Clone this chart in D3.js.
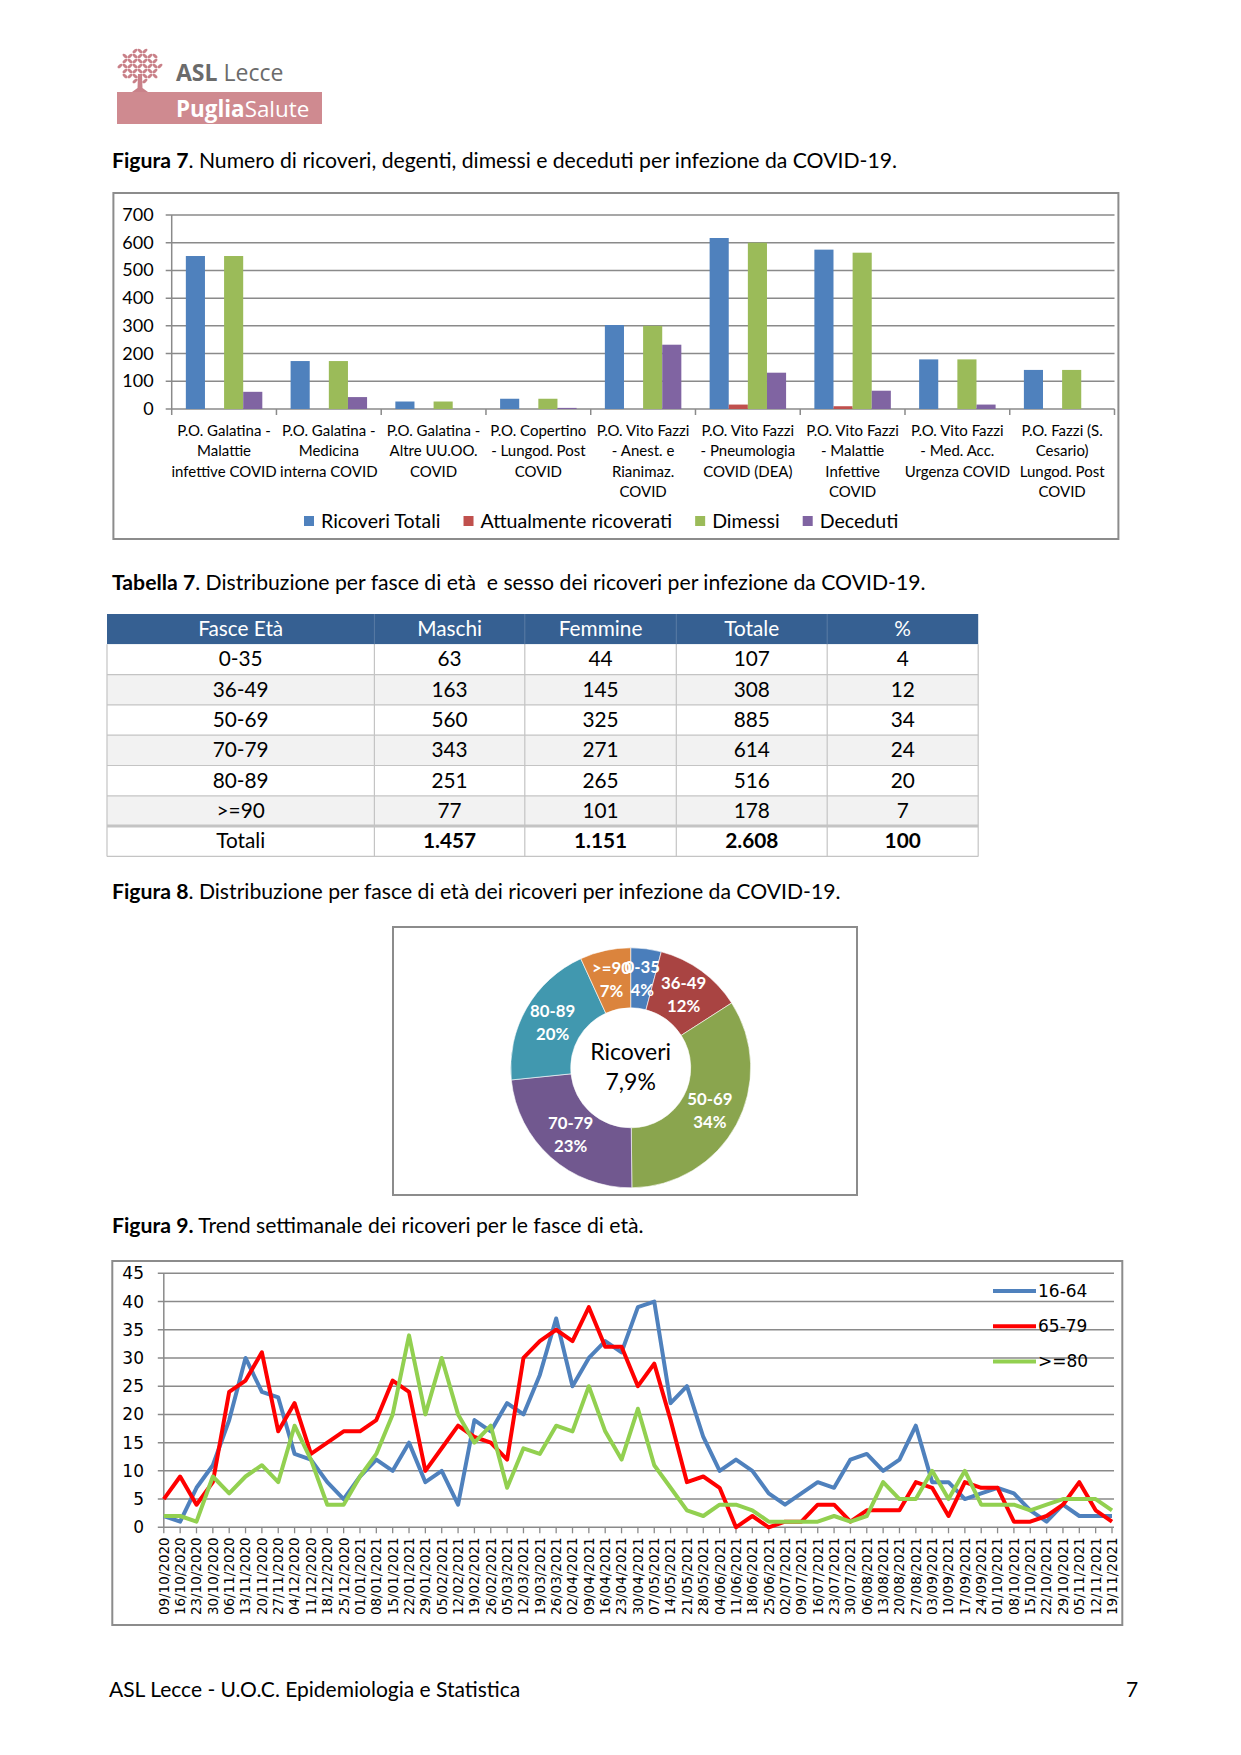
<!DOCTYPE html>
<html>
<head>
<meta charset="utf-8">
<script src="https://cdn.jsdelivr.net/npm/d3@7"></script>
<style>
  body { margin: 0; background: #fff; }
  svg { display: block; }
  text { white-space: pre; }
</style>
</head>
<body>
<script>
// ---- Figura 7: ricoveri per presidio ----
const reparti = [
  ["P.O. Galatina -", "Malattie", "infettive COVID"],
  ["P.O. Galatina -", "Medicina", "interna COVID"],
  ["P.O. Galatina -", "Altre UU.OO.", "COVID"],
  ["P.O. Copertino", "- Lungod. Post", "COVID"],
  ["P.O. Vito Fazzi", "- Anest. e", "Rianimaz.", "COVID"],
  ["P.O. Vito Fazzi", "- Pneumologia", "COVID (DEA)"],
  ["P.O. Vito Fazzi", "- Malattie", "Infettive", "COVID"],
  ["P.O. Vito Fazzi", "- Med. Acc.", "Urgenza COVID"],
  ["P.O. Fazzi (S.", "Cesario)", "Lungod. Post", "COVID"]
];
const ricoveriTotali = [552, 173, 27, 37, 303, 617, 575, 179, 141];
const attualmenteRicoverati = [0, 0, 0, 0, 0, 16, 10, 0, 0];
const dimessi = [552, 173, 27, 37, 300, 600, 564, 179, 141];
const deceduti = [62, 43, 0, 4, 232, 131, 66, 16, 0];
const serieF7 = ["Ricoveri Totali", "Attualmente ricoverati", "Dimessi", "Deceduti"];
const valoriF7 = [ricoveriTotali, attualmenteRicoverati, dimessi, deceduti];
const coloriF7 = ["#4f81bd", "#c0504d", "#9bbb59", "#8064a2"];
const yTicksF7 = [0, 100, 200, 300, 400, 500, 600, 700];

// ---- Tabella 7 ----
const intestazione = ["Fasce Età", "Maschi", "Femmine", "Totale", "%"];
const fasce = ["0-35", "36-49", "50-69", "70-79", "80-89", ">=90"];
const maschi = [63, 163, 560, 343, 251, 77];
const femmine = [44, 145, 325, 271, 265, 101];
const totale = [107, 308, 885, 614, 516, 178];
const percentuale = [4, 12, 34, 24, 20, 7];
const percTotale = 100;

// ---- Figura 8: ciambella ----
const etichettePct = ["4%", "12%", "34%", "23%", "20%", "7%"];
const coloriPie = ["#4a7ebb", "#a94442", "#8aa54e", "#71588f", "#4198af", "#db843d"];

// ---- Figura 9: trend settimanale ----
const settimane = [
  "09/10/2020", "16/10/2020", "23/10/2020", "30/10/2020", "06/11/2020", "13/11/2020",
  "20/11/2020", "27/11/2020", "04/12/2020", "11/12/2020", "18/12/2020", "25/12/2020",
  "01/01/2021", "08/01/2021", "15/01/2021", "22/01/2021", "29/01/2021", "05/02/2021",
  "12/02/2021", "19/02/2021", "26/02/2021", "05/03/2021", "12/03/2021", "19/03/2021",
  "26/03/2021", "02/04/2021", "09/04/2021", "16/04/2021", "23/04/2021", "30/04/2021",
  "07/05/2021", "14/05/2021", "21/05/2021", "28/05/2021", "04/06/2021", "11/06/2021",
  "18/06/2021", "25/06/2021", "02/07/2021", "09/07/2021", "16/07/2021", "23/07/2021",
  "30/07/2021", "06/08/2021", "13/08/2021", "20/08/2021", "27/08/2021", "03/09/2021",
  "10/09/2021", "17/09/2021", "24/09/2021", "01/10/2021", "08/10/2021", "15/10/2021",
  "22/10/2021", "29/10/2021", "05/11/2021", "12/11/2021", "19/11/2021"
];
const eta16_64 = [2, 1, 7, 11, 19, 30, 24, 23, 13, 12, 8, 5, 9, 12, 10, 15, 8, 10, 4, 19,
  17, 22, 20, 27, 37, 25, 30, 33, 31, 39, 40, 22, 25, 16, 10, 12, 10, 6, 4, 6,
  8, 7, 12, 13, 10, 12, 18, 8, 8, 5, 6, 7, 6, 3, 1, 4, 2, 2, 2];
const eta65_79 = [5, 9, 4, 8, 24, 26, 31, 17, 22, 13, 15, 17, 17, 19, 26, 24, 10, 14, 18, 16,
  15, 12, 30, 33, 35, 33, 39, 32, 32, 25, 29, 19, 8, 9, 7, 0, 2, 0, 1, 1,
  4, 4, 1, 3, 3, 3, 8, 7, 2, 8, 7, 7, 1, 1, 2, 4, 8, 3, 1];
const eta80 = [2, 2, 1, 9, 6, 9, 11, 8, 18, 12, 4, 4, 9, 13, 20, 34, 20, 30, 20, 15,
  18, 7, 14, 13, 18, 17, 25, 17, 12, 21, 11, 7, 3, 2, 4, 4, 3, 1, 1, 1,
  1, 2, 1, 2, 8, 5, 5, 10, 5, 10, 4, 4, 4, 3, 4, 5, 5, 5, 3];
const serieF9 = ["16-64", "65-79", ">=80"];
const valoriF9 = [eta16_64, eta65_79, eta80];
const coloriF9 = ["#4f81bd", "#ff0000", "#92d050"];
const yTicksF9 = [0, 5, 10, 15, 20, 25, 30, 35, 40, 45];

const W = 1241, H = 1755;
const CAL = "Lato, 'Open Sans', sans-serif";
const VER = "'DejaVu Sans', Verdana, sans-serif";
const GRID = "#8a8a8a";

const svg = d3.select("body").append("svg")
  .attr("width", W).attr("height", H);

// ---------- logo ----------
const logo = svg.append("g");
logo.append("rect").attr("x", 117).attr("y", 92).attr("width", 205).attr("height", 32)
  .attr("fill", "#cf8a90");
logo.append("text").attr("x", 176).attr("y", 116.5)
  .attr("font-family", "'Open Sans', sans-serif").attr("font-size", 22.4).attr("fill", "#fff")
  .call(t => {
    t.append("tspan").attr("font-weight", "bold").text("Puglia");
    t.append("tspan").text("Salute");
  });
logo.append("text").attr("x", 176).attr("y", 81)
  .attr("font-family", "'Open Sans', sans-serif").attr("font-size", 23).attr("fill", "#6b6b6b")
  .call(t => {
    t.append("tspan").attr("font-weight", "bold").text("ASL");
    t.append("tspan").text(" Lecce");
  });
// small stylised tree
const tree = logo.append("g").attr("fill", "#c98189");
tree.append("path").attr("d", "M138,74 L142,74 L142.5,88 L148,92 L132,92 L137.5,88 Z");
d3.range(-3, 4).forEach(r => {
  d3.range(-4, 5).forEach(c => {
    if ((r * r) / 10 + (c * c) / 17 > 1) return;
    const lx = 140 + c * 5, ly = 66 + r * 5;
    tree.append("ellipse")
      .attr("cx", lx).attr("cy", ly).attr("rx", 3).attr("ry", 1.5)
      .attr("transform", `rotate(${(r + c) % 2 ? 40 : -40},${lx},${ly})`);
  });
});

// ---------- captions ----------
function caption(y, bold, rest) {
  const t = svg.append("text").attr("x", 112).attr("y", y)
    .attr("font-family", CAL).attr("font-size", 21.2).attr("fill", "#000");
  t.append("tspan").attr("font-weight", "bold").text(bold);
  t.append("tspan").text(rest);
}
caption(168, "Figura 7", ". Numero di ricoveri, degenti, dimessi e deceduti per infezione da COVID-19.");
caption(590, "Tabella 7", ". Distribuzione per fasce di età  e sesso dei ricoveri per infezione da COVID-19.");
caption(899, "Figura 8", ". Distribuzione per fasce di età dei ricoveri per infezione da COVID-19.");
caption(1233, "Figura 9.", " Trend settimanale dei ricoveri per le fasce di età.");

// ---------- Figura 7 ----------
{
  svg.append("rect").attr("x", 113.4).attr("y", 193).attr("width", 1005).attr("height", 346)
    .attr("fill", "#fff").attr("stroke", "#8c8c8c").attr("stroke-width", 2);

  const left = 171.7, right = 1114.5, top = 215, bottom = 409;
  const g = svg.append("g");
  const x0 = d3.scaleBand().domain(d3.range(reparti.length)).range([left, right])
    .paddingInner(0.27).paddingOuter(0.135);
  const x1 = d3.scaleBand().domain(d3.range(serieF7.length)).range([0, x0.bandwidth()]);
  const y = d3.scaleLinear().domain([0, 700]).range([bottom, top]);
  const step = (right - left) / reparti.length;

  g.append("g").selectAll("line").data(yTicksF7).join("line")
    .attr("x1", left - 6).attr("x2", right).attr("y1", d => y(d)).attr("y2", d => y(d))
    .attr("stroke", GRID).attr("stroke-width", 1.5);
  g.append("g").selectAll("text").data(yTicksF7).join("text")
    .attr("x", 153.6).attr("y", d => y(d) + 6).attr("text-anchor", "end")
    .attr("font-family", CAL).attr("font-size", 18).text(d => d);

  const grp = g.append("g").selectAll("g").data(reparti).join("g")
    .attr("transform", (d, i) => `translate(${x0(i)},0)`);
  grp.selectAll("rect").data((d, i) => valoriF7.map((s, k) => ({ k, v: s[i] }))).join("rect")
    .attr("x", d => x1(d.k)).attr("width", x1.bandwidth())
    .attr("y", d => y(d.v)).attr("height", d => y(0) - y(d.v))
    .attr("fill", d => coloriF7[d.k]);

  g.append("line").attr("x1", left).attr("x2", left).attr("y1", top).attr("y2", bottom)
    .attr("stroke", GRID).attr("stroke-width", 1.5);
  g.append("g").selectAll("line").data(d3.range(reparti.length + 1)).join("line")
    .attr("x1", d => left + d * step).attr("x2", d => left + d * step)
    .attr("y1", bottom).attr("y2", bottom + 6)
    .attr("stroke", GRID).attr("stroke-width", 1.5);

  g.append("g").selectAll("text").data(reparti).join("text")
    .attr("font-family", CAL).attr("font-size", 15).attr("text-anchor", "middle")
    .each(function (lines, i) {
      d3.select(this).selectAll("tspan").data(lines).join("tspan")
        .attr("x", left + (i + 0.5) * step)
        .attr("y", (l, j) => 436 + j * 20.4)
        .text(l => l);
    });

  // legend
  let lx = 304;
  const leg = g.append("g");
  serieF7.forEach((s, k) => {
    leg.append("rect").attr("x", lx).attr("y", 516).attr("width", 10).attr("height", 10)
      .attr("fill", coloriF7[k]);
    const t = leg.append("text").attr("x", lx + 17).attr("y", 527.5)
      .attr("font-family", CAL).attr("font-size", 19.6).text(s);
    lx += 17 + t.node().getComputedTextLength() + 23;
  });
}

// ---------- Tabella 7 ----------
{
  const colX = [107, 374.4, 524.8, 676.3, 827.2, 978.2];
  const top = 614, rowH = 30.3;
  const fmt = d3.formatLocale({ decimal: ",", thousands: ".", grouping: [3], currency: ["", ""] }).format(",d");
  const righe = fasce.map((f, i) => [f, maschi[i], femmine[i], totale[i], percentuale[i]]);
  const totali = ["Totali", fmt(d3.sum(maschi)), fmt(d3.sum(femmine)), fmt(d3.sum(totale)), percTotale];
  const tg = svg.append("g").attr("font-family", CAL).attr("font-size", 20.8).attr("text-anchor", "middle");

  tg.append("rect").attr("x", colX[0]).attr("y", top).attr("width", colX[5] - colX[0]).attr("height", rowH)
    .attr("fill", "#366092");
  tg.selectAll("rect.row").data(righe.concat([totali])).join("rect").attr("class", "row")
    .attr("x", colX[0]).attr("y", (d, i) => top + rowH * (i + 1))
    .attr("width", colX[5] - colX[0]).attr("height", rowH)
    .attr("fill", (d, i) => (i % 2 === 1 && i < righe.length) ? "#f2f2f2" : "#fff");

  // grid lines
  tg.selectAll("line.h").data(d3.range(2, righe.length + 3)).join("line").attr("class", "h")
    .attr("x1", colX[0]).attr("x2", colX[5])
    .attr("y1", d => top + rowH * d).attr("y2", d => top + rowH * d)
    .attr("stroke", "#c4c4c4").attr("stroke-width", d => d === righe.length + 1 ? 3 : 1.2);
  tg.selectAll("line.v").data(colX).join("line").attr("class", "v")
    .attr("x1", d => d).attr("x2", d => d)
    .attr("y1", top + rowH).attr("y2", top + rowH * (righe.length + 2))
    .attr("stroke", "#c4c4c4").attr("stroke-width", 1.2);
  tg.selectAll("line.vh").data(colX.slice(1, 5)).join("line").attr("class", "vh")
    .attr("x1", d => d).attr("x2", d => d).attr("y1", top).attr("y2", top + rowH)
    .attr("stroke", "#5a7ca5").attr("stroke-width", 1);

  const cx = c => (colX[c] + colX[c + 1]) / 2;
  tg.selectAll("text.hd").data(intestazione).join("text").attr("class", "hd")
    .attr("x", (d, c) => cx(c)).attr("y", top + rowH / 2 + 7).attr("fill", "#fff").text(d => d);
  righe.concat([totali]).forEach((r, i) => {
    tg.append("g").selectAll("text").data(r).join("text")
      .attr("x", (d, c) => cx(c)).attr("y", top + rowH * (i + 1) + rowH / 2 + 7)
      .attr("font-weight", (d, c) => (i === righe.length && c > 0) ? "bold" : "normal")
      .text(d => d);
  });
}

// ---------- Figura 8 ----------
{
  svg.append("rect").attr("x", 393).attr("y", 927).attr("width", 464).attr("height", 268)
    .attr("fill", "#fff").attr("stroke", "#8c8c8c").attr("stroke-width", 2);
  const cx = 630.7, cy = 1067.8, rOut = 120, rIn = 60;
  const g = svg.append("g").attr("transform", `translate(${cx},${cy})`);
  const arcs = d3.pie().sort(null)(totale);
  const arc = d3.arc().innerRadius(rIn).outerRadius(rOut);
  g.selectAll("path").data(arcs).join("path")
    .attr("d", arc).attr("fill", (d, i) => coloriPie[i])
    .attr("stroke", "#fff").attr("stroke-width", 0.6);
  const mid = d3.arc().innerRadius((rIn + rOut) / 2).outerRadius((rIn + rOut) / 2);
  const lab = g.selectAll("g.lab").data(arcs).join("g").attr("class", "lab")
    .attr("transform", d => `translate(${mid.centroid(d)})`)
    .attr("font-family", CAL).attr("font-size", 16.8).attr("font-weight", "bold")
    .attr("fill", "#fff").attr("text-anchor", "middle");
  lab.append("text").attr("y", -6).text((d, i) => fasce[i]);
  lab.append("text").attr("y", 17).text((d, i) => etichettePct[i]);
  g.append("text").attr("y", -8).attr("text-anchor", "middle")
    .attr("font-family", CAL).attr("font-size", 23).text("Ricoveri");
  g.append("text").attr("y", 22).attr("text-anchor", "middle")
    .attr("font-family", CAL).attr("font-size", 23).text("7,9%");
}

// ---------- Figura 9 ----------
{
  svg.append("rect").attr("x", 112.3).attr("y", 1261).attr("width", 1010).attr("height", 364)
    .attr("fill", "#fff").attr("stroke", "#8c8c8c").attr("stroke-width", 2);
  const left = 163.8, right = 1112, top = 1273.3, bottom = 1527.3;
  const g = svg.append("g");
  const x = d3.scalePoint().domain(settimane).range([left, right]);
  const y = d3.scaleLinear().domain([0, 45]).range([bottom, top]);

  g.append("g").selectAll("line").data(yTicksF9).join("line")
    .attr("x1", left - 6).attr("x2", right + 2).attr("y1", d => y(d)).attr("y2", d => y(d))
    .attr("stroke", GRID).attr("stroke-width", 1.5);
  g.append("g").selectAll("text").data(yTicksF9).join("text")
    .attr("x", 144).attr("y", d => y(d) + 6).attr("text-anchor", "end")
    .attr("font-family", VER).attr("font-size", 17).text(d => d);
  g.append("line").attr("x1", left).attr("x2", left).attr("y1", top).attr("y2", bottom)
    .attr("stroke", GRID).attr("stroke-width", 1.5);
  g.append("g").selectAll("line").data(settimane).join("line")
    .attr("x1", d => x(d)).attr("x2", d => x(d)).attr("y1", bottom).attr("y2", bottom + 6)
    .attr("stroke", GRID).attr("stroke-width", 1.3);
  g.append("g").selectAll("text").data(settimane).join("text")
    .attr("transform", d => `translate(${x(d)},${bottom + 10}) rotate(-90)`)
    .attr("dy", "0.36em").attr("text-anchor", "end")
    .attr("font-family", VER).attr("font-size", 13.5).text(d => d);

  const line = d3.line().x((d, i) => x(settimane[i])).y(d => y(d));
  g.append("g").selectAll("path").data(valoriF9).join("path")
    .attr("d", line).attr("fill", "none")
    .attr("stroke", (d, i) => coloriF9[i]).attr("stroke-width", 4)
    .attr("stroke-linejoin", "round");

  const leg = g.append("g").selectAll("g").data(serieF9).join("g")
    .attr("transform", (d, i) => `translate(993,${1291 + i * 35.2})`);
  leg.append("line").attr("x1", 0).attr("x2", 43)
    .attr("stroke", (d, i) => coloriF9[i]).attr("stroke-width", 4);
  leg.append("text").attr("x", 45).attr("y", 6)
    .attr("font-family", VER).attr("font-size", 17).text(d => d);
}

// ---------- footer ----------
svg.append("text").attr("x", 109).attr("y", 1697)
  .attr("font-family", CAL).attr("font-size", 21).text("ASL Lecce - U.O.C. Epidemiologia e Statistica");
svg.append("text").attr("x", 1126).attr("y", 1697)
  .attr("font-family", CAL).attr("font-size", 21).text("7");
</script>
</body>
</html>
